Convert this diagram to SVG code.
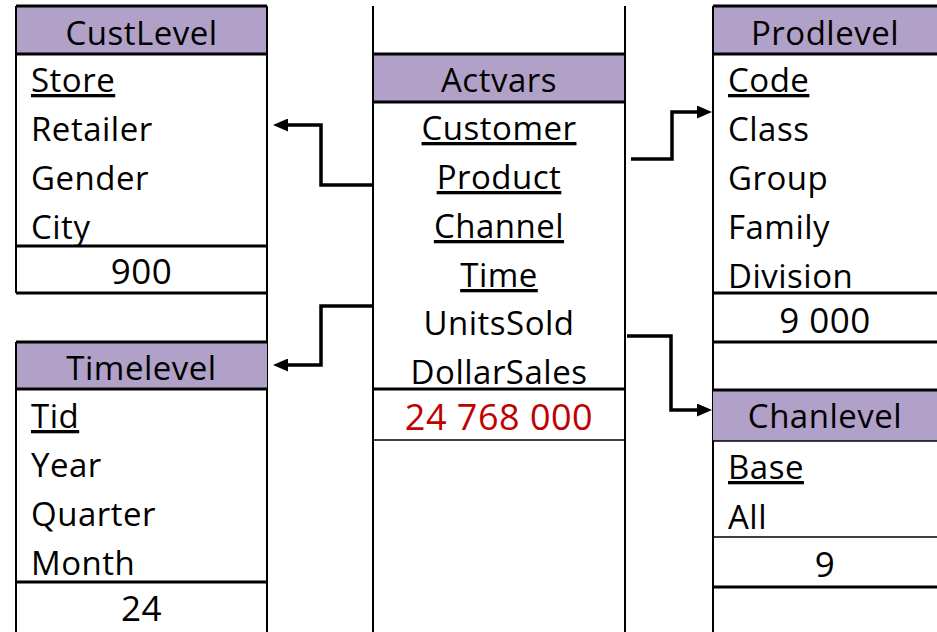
<svg xmlns="http://www.w3.org/2000/svg" width="937" height="632" viewBox="0 0 937 632">
  <defs>
    <style>
      .bg { fill: #ffffff; }
      .hdr { fill: #b1a0c7; }
      .edge { stroke: #000000; stroke-width: 2; fill: none; }
      .rule { stroke: #000000; stroke-width: 3; fill: none; }
      .thin { stroke: #000000; stroke-width: 1.6; fill: none; }
      .t { font-family: "Open Sans", "Liberation Sans", sans-serif; font-size: 33px; letter-spacing: 0.5px; fill: #000000; }
      .n { font-size: 35px; }
      .c { text-anchor: middle; }
      .key { text-decoration: underline; }
      .red { fill: #c00000; }
      .link { stroke: #000000; stroke-width: 3.5; fill: none; stroke-linejoin: miter; }
    </style>
    <marker id="head" viewBox="0 0 15 13" refX="1" refY="6.5" markerWidth="15" markerHeight="13" markerUnits="userSpaceOnUse" orient="auto">
      <path d="M0,0 L15,6.5 L0,13 Z" fill="#000000"/>
    </marker>
  </defs>

  <rect class="bg" x="0" y="0" width="937" height="632"/>

  <!-- CustLevel -->
  <g id="custlevel">
    <rect class="hdr" x="16" y="6" width="251" height="48"/>
    <path class="edge" d="M16,6 V293 M267,6 V632"/>
    <path class="rule" d="M16,6 H267 M16,54 H267 M16,246 H267 M16,293 H267"/>
    <text class="t c" x="141.5" y="45">CustLevel</text>
    <text class="t key" x="31" y="92">Store</text>
    <text class="t" x="31" y="141">Retailer</text>
    <text class="t" x="31" y="190">Gender</text>
    <text class="t" x="31" y="239">City</text>
    <text class="t n c" x="141.5" y="284">900</text>
  </g>

  <!-- Timelevel -->
  <g id="timelevel">
    <rect class="hdr" x="16" y="342" width="251" height="47"/>
    <path class="edge" d="M16,342 V632"/>
    <path class="rule" d="M16,342 H267 M16,389 H267 M16,582 H267"/>
    <text class="t c" x="141.5" y="380">Timelevel</text>
    <text class="t key" x="31" y="428">Tid</text>
    <text class="t" x="31" y="477">Year</text>
    <text class="t" x="31" y="526">Quarter</text>
    <text class="t" x="31" y="575">Month</text>
    <text class="t n c" x="141.5" y="621">24</text>
  </g>

  <!-- Actvars -->
  <g id="actvars">
    <rect class="hdr" x="373" y="54" width="252" height="48"/>
    <path class="edge" d="M373,6 V632 M625,6 V632"/>
    <path class="rule" d="M373,54 H625 M373,102 H625 M373,389 H625"/>
    <path class="thin" d="M373,440 H625"/>
    <text class="t c" x="499" y="92">Actvars</text>
    <text class="t c key" x="499" y="140">Customer</text>
    <text class="t c key" x="499" y="189">Product</text>
    <text class="t c key" x="499" y="238">Channel</text>
    <text class="t c key" x="499" y="287">Time</text>
    <text class="t c" x="499" y="335">UnitsSold</text>
    <text class="t c" x="499" y="384">DollarSales</text>
    <text class="t n c red" x="499" y="430" style="font-size:36px">24 768 000</text>
  </g>

  <!-- Prodlevel -->
  <g id="prodlevel">
    <rect class="hdr" x="713" y="6" width="230" height="48"/>
    <path class="edge" d="M713,6 V632"/>
    <path class="rule" d="M713,6 H940 M713,54 H940 M713,293 H940 M713,342 H940"/>
    <text class="t c" x="825" y="45">Prodlevel</text>
    <text class="t key" x="728" y="92">Code</text>
    <text class="t" x="728" y="141">Class</text>
    <text class="t" x="728" y="190">Group</text>
    <text class="t" x="728" y="239">Family</text>
    <text class="t" x="728" y="288">Division</text>
    <text class="t n c" x="825" y="333">9 000</text>
  </g>

  <!-- Chanlevel -->
  <g id="chanlevel">
    <rect class="hdr" x="713" y="390" width="230" height="51"/>
    <path class="rule" d="M713,390 H940 M713,587 H940"/>
    <path class="thin" d="M713,441 H940 M713,537 H940"/>
    <text class="t c" x="825" y="428">Chanlevel</text>
    <text class="t key" x="728" y="479">Base</text>
    <text class="t" x="728" y="529">All</text>
    <text class="t n c" x="825" y="577">9</text>
  </g>

  <!-- connectors from Actvars to the level tables -->
  <g id="connectors">
    <path class="link" d="M373,185 H321 V125 H287" marker-end="url(#head)"/>
    <path class="link" d="M373,306 H321 V365 H287" marker-end="url(#head)"/>
    <path class="link" d="M631,159 H672 V112 H698" marker-end="url(#head)"/>
    <path class="link" d="M627,336 H671 V410 H698" marker-end="url(#head)"/>
  </g>
</svg>
